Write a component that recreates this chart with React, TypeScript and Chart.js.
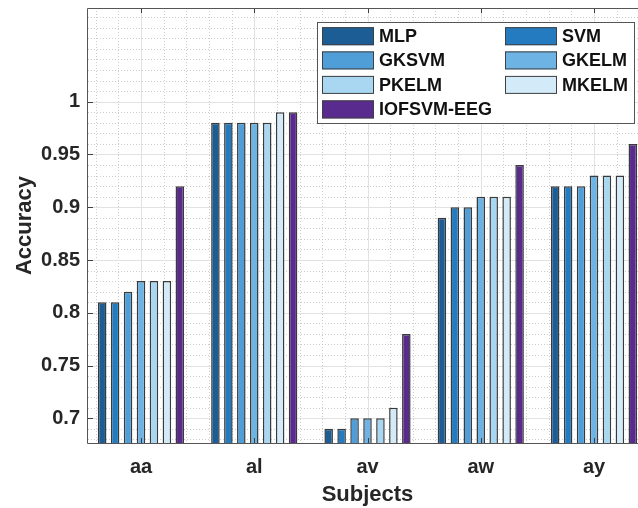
import React, { useEffect, useRef } from 'react';
import { Chart, registerables } from 'chart.js';

Chart.register(...registerables);

const subjects = ['aa', 'al', 'av', 'aw', 'ay'];
const methods = ['MLP', 'SVM', 'GKSVM', 'GKELM', 'PKELM', 'MKELM', 'IOFSVM-EEG'];
const mlp = [0.81, 0.98, 0.69, 0.89, 0.92];
const svm = [0.81, 0.98, 0.69, 0.90, 0.92];
const gksvm = [0.82, 0.98, 0.70, 0.90, 0.92];
const gkelm = [0.83, 0.98, 0.70, 0.91, 0.93];
const pkelm = [0.83, 0.98, 0.70, 0.91, 0.93];
const mkelm = [0.83, 0.99, 0.71, 0.91, 0.93];
const iofsvm = [0.92, 0.99, 0.78, 0.94, 0.96];
const yTicks = [0.7, 0.75, 0.8, 0.85, 0.9, 0.95, 1];
const colors = ['#1c5d95', '#247bbf', '#509ed8', '#6db3e3', '#a9d7f2', '#d3eaf9', '#5a2b8e'];

const series = [mlp, svm, gksvm, gkelm, pkelm, mkelm, iofsvm];
const FONT = '"Liberation Sans", Arial, Helvetica, sans-serif';
const TXT = '#262626';

const decor = {
  id: 'decor',
  beforeDatasetsDraw(chart: any) {
    const { ctx, chartArea: a, scales } = chart;
    const x = scales.x, y = scales.y;
    ctx.save();
    ctx.beginPath();
    ctx.rect(a.left, a.top, a.right - a.left, a.bottom - a.top);
    ctx.clip();
    // minor dotted grid
    ctx.strokeStyle = '#cccccc';
    ctx.lineWidth = 1;
    ctx.setLineDash([1, 2]);
    ctx.beginPath();
    for (let k = Math.ceil(x.min * 5); k <= Math.floor(x.max * 5); k++) {
      if (k % 5 === 0) continue;
      const px = Math.round(x.getPixelForValue(k / 5)) + 0.5;
      ctx.moveTo(px, a.top);
      ctx.lineTo(px, a.bottom);
    }
    for (let k = Math.ceil(y.min * 100); k <= Math.floor(y.max * 100); k++) {
      if (k % 5 === 0 && k <= 100) continue;
      const py = Math.round(y.getPixelForValue(k / 100)) + 0.5;
      ctx.moveTo(a.left, py);
      ctx.lineTo(a.right, py);
    }
    ctx.stroke();
    // major grid
    ctx.setLineDash([]);
    ctx.strokeStyle = '#e2e2e2';
    ctx.beginPath();
    for (let i = 1; i <= subjects.length; i++) {
      const px = Math.round(x.getPixelForValue(i)) + 0.5;
      ctx.moveTo(px, a.top);
      ctx.lineTo(px, a.bottom);
    }
    yTicks.forEach((v) => {
      const py = Math.round(y.getPixelForValue(v)) + 0.5;
      ctx.moveTo(a.left, py);
      ctx.lineTo(a.right, py);
    });
    ctx.stroke();
    ctx.restore();
  },
  afterDatasetsDraw(chart: any) {
    const { ctx, chartArea: a, scales } = chart;
    const x = scales.x, y = scales.y;
    ctx.save();
    // ticks
    ctx.strokeStyle = '#404040';
    ctx.lineWidth = 1;
    ctx.beginPath();
    for (let i = 1; i <= subjects.length; i++) {
      const px = Math.round(x.getPixelForValue(i)) + 0.5;
      ctx.moveTo(px, a.bottom);
      ctx.lineTo(px, a.bottom - 5);
      ctx.moveTo(px, a.top);
      ctx.lineTo(px, a.top + 5);
    }
    yTicks.forEach((v) => {
      const py = Math.round(y.getPixelForValue(v)) + 0.5;
      ctx.moveTo(a.left, py);
      ctx.lineTo(a.left + 5, py);
      ctx.moveTo(a.right, py);
      ctx.lineTo(a.right - 5, py);
    });
    ctx.stroke();
    // axes box
    ctx.strokeStyle = '#555555';
    ctx.beginPath();
    ctx.rect(Math.round(a.left) - 0.5, Math.round(a.top) + 0.5, Math.round(a.right - a.left), Math.round(a.bottom - a.top));
    ctx.stroke();

    // legend
    const bx = 317, by = 22, bw = 317, bh = 101;
    ctx.fillStyle = '#ffffff';
    ctx.fillRect(bx, by, bw, bh);
    ctx.strokeStyle = '#555555';
    ctx.strokeRect(bx + 0.5, by + 0.5, bw, bh);
    ctx.font = 'bold 18px ' + FONT;
    ctx.textBaseline = 'middle';
    ctx.textAlign = 'left';
    const rows = [36.2, 60.4, 84.9, 109.4];
    chart.data.datasets.forEach((ds: any, i: number) => {
      const col = i % 2;
      const row = Math.floor(i / 2);
      const sx = col === 0 ? 322 : 505;
      const cy = rows[row];
      ctx.fillStyle = ds.backgroundColor;
      ctx.fillRect(sx, cy - 9, 52, 18);
      ctx.strokeStyle = '#404040';
      ctx.strokeRect(sx + 0.5, cy - 9 + 0.5, 51, 17);
      ctx.fillStyle = '#111111';
      ctx.fillText(ds.label, sx + 57, cy + 1);
    });
    ctx.restore();
  },
};

export default function App() {
  const ref = useRef<HTMLCanvasElement>(null);
  useEffect(() => {
    if (!ref.current) return;
    const chart = new Chart(ref.current, {
      type: 'bar',
      data: {
        datasets: methods.map((m, i) => ({
          label: m,
          data: series[i].map((v, j) => ({ x: j + 1, y: v })),
          backgroundColor: colors[i],
          borderColor: '#3a3a3a',
          borderWidth: 1.5,
          barPercentage: 0.66,
          categoryPercentage: 0.8,
        })),
      },
      options: {
        animation: false,
        responsive: false,
        devicePixelRatio: 1,
        layout: { padding: { top: 8, right: 13, left: 0, bottom: 0 } },
        plugins: { legend: { display: false }, tooltip: { enabled: false } },
        scales: {
          x: {
            type: 'linear',
            offset: false,
            min: 0.532,
            max: 5.468,
            grid: { display: false, drawTicks: false },
            border: { display: false },
            afterBuildTicks: (s: any) => {
              s.ticks = subjects.map((_, i) => ({ value: i + 1 }));
            },
            afterFit: (s: any) => {
              s.height = 65;
              s.paddingLeft = 0;
              s.paddingRight = 0;
            },
            ticks: {
              autoSkip: false,
              maxRotation: 0,
              padding: 12,
              color: TXT,
              font: { family: FONT, size: 20, weight: 'bold' },
              callback: (v: any) => subjects[Math.round(v) - 1] ?? '',
            },
            title: {
              display: true,
              text: 'Subjects',
              color: TXT,
              font: { family: FONT, size: 22, weight: 'bold' },
              padding: { top: 0, bottom: 0 },
            },
          },
          y: {
            type: 'linear',
            min: 0.6766,
            max: 1.0888,
            grid: { display: false, drawTicks: false },
            border: { display: false },
            afterBuildTicks: (s: any) => {
              s.ticks = yTicks.map((v) => ({ value: v }));
            },
            afterFit: (s: any) => {
              s.width = 88;
              s.paddingTop = 0;
              s.paddingBottom = 0;
            },
            ticks: {
              padding: 8,
              color: TXT,
              font: { family: FONT, size: 20, weight: 'bold' },
              callback: (v: any) => String(+Number(v).toFixed(2)),
            },
            title: {
              display: true,
              text: 'Accuracy',
              color: TXT,
              font: { family: FONT, size: 22, weight: 'bold' },
              padding: { top: 12, bottom: 0 },
            },
          },
        },
      },
      plugins: [decor],
    } as any);
    return () => chart.destroy();
  }, []);
  return (
    <div style={{ position: 'fixed', left: 0, top: 0, width: 638, height: 508, overflow: 'hidden', background: '#fff' }}>
      <canvas ref={ref} width={660} height={508} style={{ display: 'block', width: 660, height: 508 }} />
    </div>
  );
}
